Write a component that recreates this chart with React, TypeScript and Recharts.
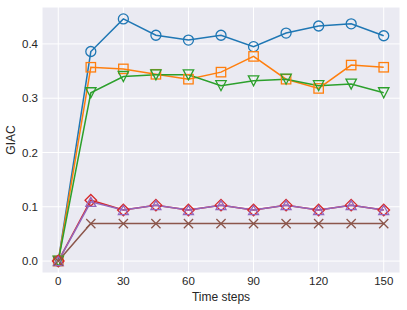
import { LineChart, Line, XAxis, YAxis, CartesianGrid } from 'recharts';

const steps = [0, 15, 30, 45, 60, 75, 90, 105, 120, 135, 150];
const blueVals = [0, 0.386, 0.446, 0.416, 0.407, 0.416, 0.395, 0.42, 0.433, 0.437, 0.415];
const orangeVals = [0, 0.357, 0.354, 0.344, 0.335, 0.348, 0.377, 0.335, 0.318, 0.361, 0.357];
const greenVals = [0, 0.31, 0.34, 0.343, 0.343, 0.323, 0.332, 0.335, 0.323, 0.326, 0.31];
const redVals = [0, 0.112, 0.094, 0.103, 0.094, 0.103, 0.094, 0.103, 0.094, 0.103, 0.094];
const purpleVals = [0, 0.109, 0.094, 0.103, 0.094, 0.103, 0.094, 0.103, 0.094, 0.103, 0.094];
const brownVals = [0, 0.069, 0.069, 0.069, 0.069, 0.069, 0.069, 0.069, 0.069, 0.069, 0.069];
const xTicks = [0, 30, 60, 90, 120, 150];
const yTicks = [0, 0.1, 0.2, 0.3, 0.4];

const data = steps.map((t, i) => ({
  t,
  blue: blueVals[i],
  orange: orangeVals[i],
  green: greenVals[i],
  red: redVals[i],
  purple: purpleVals[i],
  brown: brownVals[i],
}));

type Shape = 'circle' | 'square' | 'tridown' | 'diamond' | 'triup' | 'x';

const makeDot = (shape: Shape, color: string) => (props: any) => {
  const { cx, cy, index } = props;
  const k = `${shape}-${index}`;
  const common = { fill: 'none', stroke: color, strokeWidth: 1.3 };
  if (cx == null || cy == null) return <g key={k} />;
  switch (shape) {
    case 'circle':
      return <circle key={k} cx={cx} cy={cy} r={5} {...common} />;
    case 'square':
      return <rect key={k} x={cx - 4.7} y={cy - 4.7} width={9.4} height={9.4} {...common} />;
    case 'tridown':
      return (
        <polygon key={k} points={`${cx - 5.2},${cy - 5} ${cx + 5.2},${cy - 5} ${cx},${cy + 5}`} {...common} />
      );
    case 'triup':
      return (
        <polygon key={k} points={`${cx - 5},${cy + 4.5} ${cx + 5},${cy + 4.5} ${cx},${cy - 4.5}`} {...common} />
      );
    case 'diamond':
      return (
        <polygon
          key={k}
          points={`${cx},${cy - 5.8} ${cx + 5.8},${cy} ${cx},${cy + 5.8} ${cx - 5.8},${cy}`}
          {...common}
        />
      );
    default:
      return (
        <path
          key={k}
          d={`M${cx - 4.6},${cy - 4.6}L${cx + 4.6},${cy + 4.6}M${cx - 4.6},${cy + 4.6}L${cx + 4.6},${cy - 4.6}`}
          {...common}
        />
      );
  }
};

const series: { key: string; color: string; shape: Shape }[] = [
  { key: 'blue', color: '#1f77b4', shape: 'circle' },
  { key: 'orange', color: '#ff7f0e', shape: 'square' },
  { key: 'green', color: '#2ca02c', shape: 'tridown' },
  { key: 'red', color: '#d62728', shape: 'diamond' },
  { key: 'purple', color: '#9467bd', shape: 'triup' },
  { key: 'brown', color: '#8c564b', shape: 'x' },
];

const tickStyle = { fontSize: 11.5, fill: '#262626', fontFamily: 'Liberation Sans, Arial, sans-serif' };

export default function App() {
  return (
    <div style={{ position: 'absolute', left: 0, top: 0, width: 407, height: 310, background: '#fff' }}>
      <LineChart width={407} height={310} data={data} margin={{ top: 7, right: 7, bottom: 0, left: 0 }}>
        <CartesianGrid fill="#eaeaf2" stroke="#ffffff" strokeWidth={1} />
        <XAxis
          dataKey="t"
          type="number"
          domain={[-7.5, 157.5]}
          ticks={xTicks}
          allowDataOverflow
          axisLine={false}
          tickLine={false}
          tickSize={0}
          tickMargin={4}
          height={37}
          tick={tickStyle}
          label={{
            value: 'Time steps',
            position: 'insideBottom',
            offset: 9,
            style: { ...tickStyle, fontSize: 12 },
          }}
        />
        <YAxis
          type="number"
          domain={[-0.022, 0.468]}
          ticks={yTicks}
          allowDataOverflow
          axisLine={false}
          tickLine={false}
          tickSize={0}
          tickMargin={4}
          width={42}
          tick={tickStyle}
          tickFormatter={(v: number) => v.toFixed(1)}
          label={{
            value: 'GIAC',
            angle: -90,
            position: 'insideLeft',
            offset: 11,
            style: { ...tickStyle, fontSize: 12, textAnchor: 'middle' },
          }}
        />
        {series.map((s) => (
          <Line
            key={s.key}
            type="linear"
            dataKey={s.key}
            stroke={s.color}
            strokeWidth={1.5}
            dot={makeDot(s.shape, s.color)}
            activeDot={false}
            isAnimationActive={false}
          />
        ))}
      </LineChart>
    </div>
  );
}
